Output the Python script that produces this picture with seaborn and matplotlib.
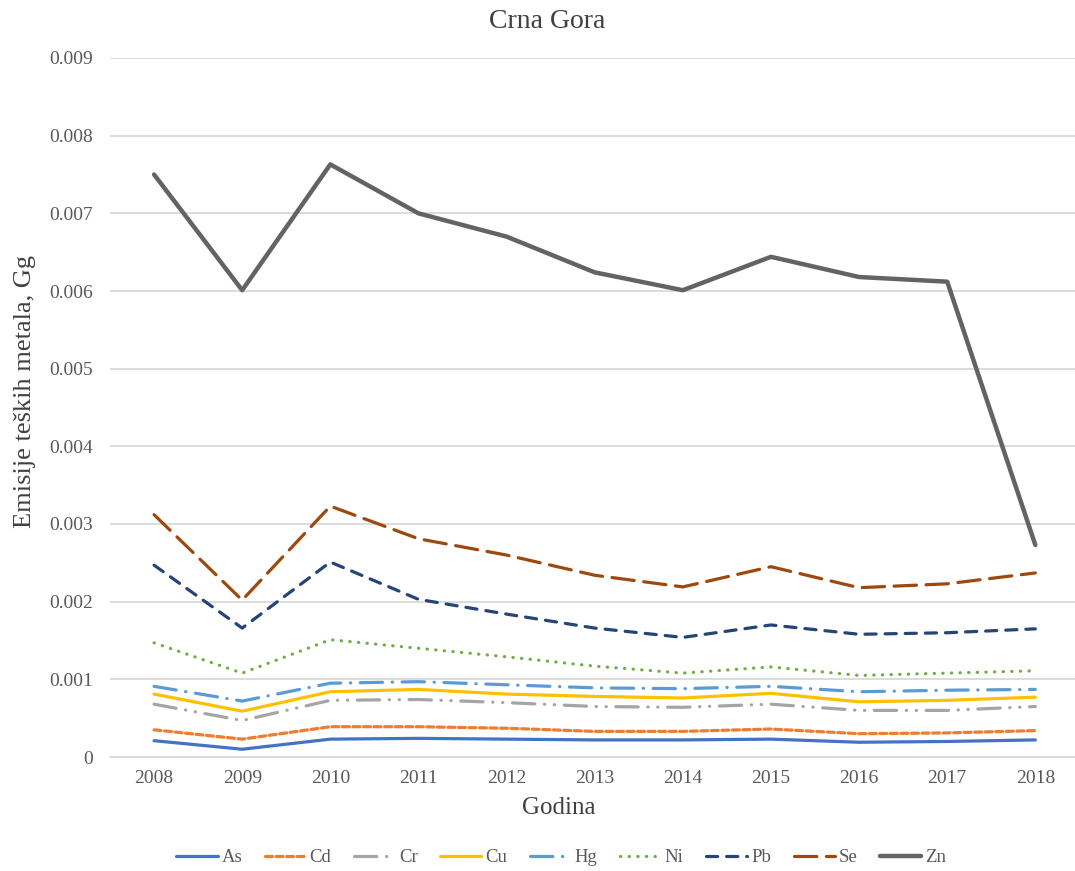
import pandas as pd
import numpy as np
import matplotlib.pyplot as plt
import seaborn as sns

# Data (Gg)
years = [2008, 2009, 2010, 2011, 2012, 2013, 2014, 2015, 2016, 2017, 2018]
metals = ['As', 'Cd', 'Cr', 'Cu', 'Hg', 'Ni', 'Pb', 'Se', 'Zn']

as_vals = [0.00021, 0.00010, 0.00023, 0.00024, 0.00023, 0.00022, 0.00022, 0.00023, 0.00019, 0.00020, 0.00022]
cd_vals = [0.00035, 0.00023, 0.00039, 0.00039, 0.00037, 0.00033, 0.00033, 0.00036, 0.00030, 0.00031, 0.00034]
cr_vals = [0.00068, 0.00047, 0.00073, 0.00074, 0.00070, 0.00065, 0.00064, 0.00068, 0.00060, 0.00060, 0.00065]
cu_vals = [0.00081, 0.00059, 0.00084, 0.00087, 0.00081, 0.00078, 0.00076, 0.00082, 0.00071, 0.00073, 0.00077]
hg_vals = [0.00091, 0.00072, 0.00095, 0.00097, 0.00093, 0.00089, 0.00088, 0.00091, 0.00084, 0.00086, 0.00087]
ni_vals = [0.00147, 0.00108, 0.00151, 0.00140, 0.00129, 0.00117, 0.00108, 0.00116, 0.00105, 0.00108, 0.00111]
pb_vals = [0.00247, 0.00166, 0.00251, 0.00203, 0.00184, 0.00166, 0.00154, 0.00170, 0.00158, 0.00160, 0.00165]
se_vals = [0.00312, 0.00202, 0.00323, 0.00281, 0.00260, 0.00234, 0.00219, 0.00245, 0.00218, 0.00223, 0.00237]
zn_vals = [0.00750, 0.00601, 0.00763, 0.00700, 0.00670, 0.00624, 0.00601, 0.00644, 0.00618, 0.00612, 0.00273]

values = [as_vals, cd_vals, cr_vals, cu_vals, hg_vals, ni_vals, pb_vals, se_vals, zn_vals]

colors = ['#4472C4', '#ED7D31', '#A5A5A5', '#FFC000', '#5B9BD5',
          '#70AD47', '#264478', '#9E480E', '#636363']
dashes = [None, (2.2, 1.1), (7, 3, 0.1, 3, 0.1, 3), None, (7, 3, 0.1, 3),
          (0.1, 2.6), (3.5, 2.8), (7, 3), None]
widths = [2.3, 2.3, 2.3, 2.3, 2.3, 2.3, 2.3, 2.3, 3.2]

df = pd.DataFrame({'Godina': years * len(metals),
                   'Metal': np.repeat(metals, len(years)),
                   'Emisije': np.concatenate(values)})
df['x'] = df['Godina'] - years[0]

sns.set_style('white')
plt.rcParams['font.family'] = ['Liberation Serif', 'DejaVu Serif']

fig = plt.figure(figsize=(10.75, 8.71), dpi=100)
ax = fig.add_axes([110 / 1075, 1 - 757 / 871, 1 - 110 / 1075, (757 - 58) / 871])

for m, c, d, w in zip(metals, colors, dashes, widths):
    sub = df[df['Metal'] == m]
    sns.lineplot(data=sub, x='x', y='Emisije', ax=ax, color=c, lw=w, label=m)
    ln = ax.get_lines()[-1]
    if d is not None:
        ln.set_dashes(d)
        ln.set_dash_capstyle('round')
    else:
        ln.set_solid_capstyle('round')

ax.set_xlim(-0.5, 10.45)
ax.set_ylim(0, 0.009)
ax.set_xticks(range(len(years)))
ax.set_xticklabels([str(y) for y in years])
ax.set_yticks(np.arange(0, 0.0091, 0.001))
ax.set_yticklabels(['0'] + ['%.3f' % v for v in np.arange(0.001, 0.0091, 0.001)])
ax.tick_params(axis='both', length=0, labelsize=14, colors='#595959')
ax.tick_params(axis='x', pad=9)
ax.tick_params(axis='y', pad=12)
ax.grid(axis='y', color='#D9D9D9', lw=1.3)
ax.set_axisbelow(True)
for s in ['top', 'right', 'left']:
    ax.spines[s].set_visible(False)
ax.spines['bottom'].set_color('#D9D9D9')
ax.spines['bottom'].set_linewidth(1.3)

ax.set_xlabel('Godina', fontsize=18, color='#404040', va='center')
ax.xaxis.set_label_coords((559 - 110) / 965, (757 - 808) / 699)
ax.set_ylabel('Emisije teških metala, Gg', fontsize=19, color='#404040', va='center', ha='center')
ax.yaxis.set_label_coords((25 - 110) / 965, (757 - 391) / 699)
fig.text(547 / 1075, 1 - 22 / 871, 'Crna Gora', ha='center', va='center', fontsize=20, color='#404040')

handles, labels = ax.get_legend_handles_labels()
ax.legend_.remove()
fig.legend(handles, labels, loc='center', bbox_to_anchor=(0.522, 0.015), ncol=9,
           frameon=False, fontsize=13.5, handlelength=2.2, handletextpad=0.2,
           columnspacing=1.2, labelcolor='#595959')

fig.savefig('out.png', dpi=100)
